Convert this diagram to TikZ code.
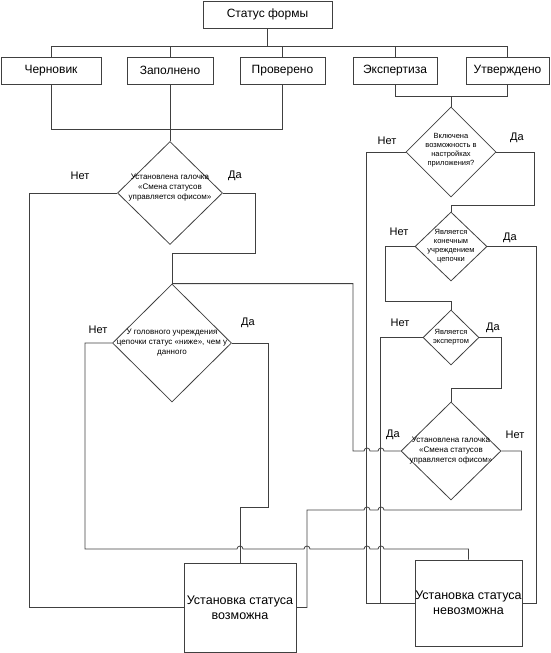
\documentclass[tikz,border=0pt]{standalone}
\usepackage{fontspec}
\setmainfont{Liberation Sans}
\usepgflibrary{shapes}

\begin{document}
\begin{tikzpicture}[x=1pt,y=-1pt,
  box/.style={draw=black!75, line width=0.8pt, minimum height=27pt, inner sep=0pt, font=\fontsize{12}{14}\selectfont},
  bigbox/.style={draw=black!75, line width=0.8pt, inner sep=0pt, align=center, font=\fontsize{12.5}{15}\selectfont},
  cond/.style={diamond, draw=black!75, line width=0.8pt, inner sep=0pt},
  ctext/.style={align=center, inner sep=0pt, font=\fontsize{8}{10}\selectfont},
  stext/.style={align=center, inner sep=0pt, font=\fontsize{7.5}{9}\selectfont},
  lbl/.style={inner sep=0pt, font=\fontsize{11}{13}\selectfont},
  wire/.style={draw=black!75, line width=0.8pt}]
      \useasboundingbox (0,0) rectangle (550,653);
      \node[box, minimum width=129pt] (status) at (267.5,14.5) {Статус формы};
      \node[box, minimum width=100pt] (cher) at (51,70.5) {Черновик};
      \node[box, minimum width=86pt] (zap) at (170,70.5) {Заполнено};
      \node[box, minimum width=85pt] (prov) at (282.5,70.5) {Проверено};
      \node[box, minimum width=84pt] (eksp) at (395,70.5) {Экспертиза};
      \node[box, minimum width=83pt] (utv) at (507.5,70.5) {Утверждено};
      \node[bigbox, minimum width=112pt, minimum height=89pt] (ok) at (240,607.5) {Установка статуса\\возможна};
      \node[bigbox, minimum width=107pt, minimum height=86pt] (nok) at (468.5,603) {Установка статуса\\невозможна};
      \node[cond, minimum width=105pt, minimum height=103pt, label={[ctext, yshift=5pt]center:{Установлена галочка\\«Смена статусов\\управляется офисом»}}] (d1) at (170,193) {};
      \node[cond, minimum width=119pt, minimum height=118pt, label={[ctext]center:{У головного учреждения\\цепочки статус «ниже», чем у\\данного}}] (d2) at (172,343) {};
      \node[cond, minimum width=90pt, minimum height=90pt, label={[stext, yshift=2pt]center:{Включена\\возможность в\\настройках\\приложения?}}] (d3) at (451,152) {};
      \node[cond, minimum width=72pt, minimum height=69pt, label={[stext]center:{Является\\конечным\\учреждением\\цепочки}}] (d4) at (451,246.5) {};
      \node[cond, minimum width=56pt, minimum height=55pt, label={[stext]center:{Является\\экспертом}}] (d5) at (451,337.5) {};
      \node[cond, minimum width=100pt, minimum height=98pt, label={[ctext]center:{Установлена галочка\\«Смена статусов\\управляется офисом»}}] (d6) at (451,451) {};
      \coordinate (bus) at (267.5,46);
      \coordinate (j1) at (170,129);
      \coordinate (j2) at (451,96);
      \draw[wire] (status.south) -- (bus);
      \draw[wire] (bus) -| (cher.north);
      \draw[wire] (bus) -| (zap.north);
      \draw[wire] (bus) -| (prov.north);
      \draw[wire] (bus) -| (eksp.north);
      \draw[wire] (bus) -| (utv.north);
      \draw[wire] (cher.south) |- (j1);
      \draw[wire] (prov.south) |- (j1);
      \draw[wire] (zap.south) -- (d1.north);
      \draw[wire] (eksp.south) |- (j2);
      \draw[wire] (utv.south) |- (j2);
      \draw[wire] (j2) -- (d3.north);
      \draw[wire] (d1.west) -- ++(-87.5,0) |- (ok.west);
      \draw[wire] (d1.east) -| ++(32,60) -| (d2.north);
      \draw[wire] (d2.west) -| (85,549) -- (237,549) arc (180:0:3pt) -- (304,549) arc (180:0:3pt) -- (364,549) arc (180:0:3pt) -- (378,549) arc (180:0:3pt) -| (nok.north);
      \draw[wire] (d2.east) -| ++(36,164) -| (ok.north);
      \draw[wire] (d3.west) -- ++(-39,0) |- (nok.west);
      \draw[wire] (d3.east) -| ++(38,53) -| (d4.north);
      \draw[wire] (d4.west) -| ++(-29,55) -| (d5.north);
      \draw[wire] (d4.east) -- ++(49,0) |- (nok.east);
      \draw[wire] (d5.west) -- ++(-42,0) |- (nok.west);
      \draw[wire] (d5.east) -| ++(22,51) -| (d6.north);
      \draw[wire] (d6.west) -- (384,451) arc (0:180:3pt) -- (370,451) arc (0:180:3pt) -- (353,451) |- (d2.north);
      \draw[wire] (d6.east) -| ++(20,59) -- (384,510) arc (0:180:3pt) -- (370,510) arc (0:180:3pt) -- (307,510) |- (ok.east);
      \node[lbl] (n1) at (80,176) {Нет};
      \node[lbl] (y1) at (235,176) {Да};
      \node[lbl] (n2) at (98,330) {Нет};
      \node[lbl] (y2) at (248,323) {Да};
      \node[lbl] (n3) at (387,141) {Нет};
      \node[lbl] (y3) at (517,138) {Да};
      \node[lbl] (n4) at (399,232) {Нет};
      \node[lbl] (y4) at (510,238) {Да};
      \node[lbl] (n5) at (400,323) {Нет};
      \node[lbl] (y5) at (493,328) {Да};
      \node[lbl] (y6) at (393,435) {Да};
      \node[lbl] (n6) at (515,435) {Нет};
   \end{tikzpicture}
\end{document}
